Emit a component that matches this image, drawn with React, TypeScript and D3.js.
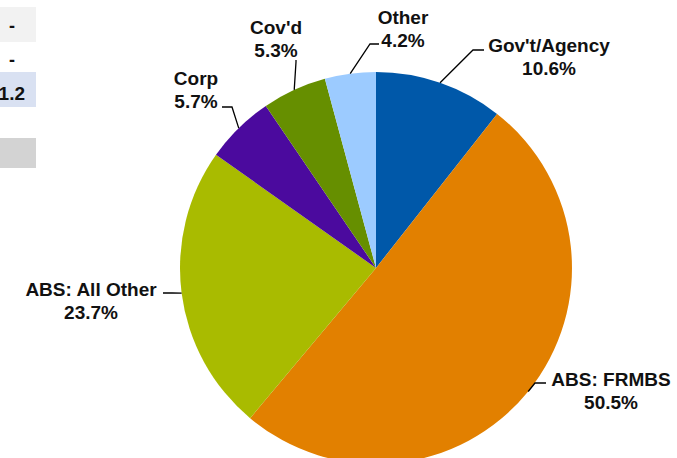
import { useEffect, useRef } from "react";
import * as d3 from "d3";

// slice data, clockwise from 12 o'clock
const categories = ["Gov't/Agency", "ABS: FRMBS", "ABS: All Other", "Corp", "Cov'd", "Other"];
const shares = [10.6, 50.5, 23.7, 5.7, 5.3, 4.2];
const colors = ["#0058A9", "#E28000", "#A9BB00", "#4B0A9E", "#668F00", "#9CCBFF"];

// label placement (first-line baseline, centre x) and leader elbow / end
const labelLayout = [
  { x: 549, y: 52, elbow: [473, 50], end: [484, 50] },
  { x: 611, y: 386, elbow: [535, 383], end: [546, 383] },
  { x: 91, y: 296, elbow: [172, 293], end: [163, 293] },
  { x: 196, y: 85, elbow: [232, 107], end: [222, 107] },
  { x: 276, y: 34, elbow: [296, 62], end: [296, 60] },
  { x: 403, y: 24, elbow: [370, 44], end: [379, 44] },
];

const W = 677;
const H = 458;

const App = () => {
  const svgRef = useRef(null);

  useEffect(() => {
    const svg = d3.select(svgRef.current);
    svg.selectAll("*").remove();

    const font = "'Liberation Sans', Arial, sans-serif";

    // leftover spreadsheet cells on the left edge
    const cells = svg.append("g");
    cells.append("rect").attr("x", 0).attr("y", 7).attr("width", 36).attr("height", 35).attr("fill", "#F2F2F2");
    cells.append("rect").attr("x", 0).attr("y", 72).attr("width", 36).attr("height", 35).attr("fill", "#D9E1F2");
    cells.append("rect").attr("x", 0).attr("y", 138).attr("width", 36).attr("height", 30).attr("fill", "#D3D3D3");
    cells.append("text").attr("x", 9).attr("y", 32).text("-")
      .attr("font-family", font).attr("font-size", 18).attr("font-weight", "bold").attr("fill", "#111");
    cells.append("text").attr("x", 9).attr("y", 66).text("-")
      .attr("font-family", font).attr("font-size", 18).attr("font-weight", "bold").attr("fill", "#111");
    cells.append("text").attr("x", 25).attr("y", 100).attr("text-anchor", "end").text("1.2")
      .attr("font-family", font).attr("font-size", 19).attr("font-weight", "bold").attr("fill", "#111");

    const cx = 376;
    const cy = 268;
    const r = 196;

    const pie = d3.pie<number>().sort(null).value((d) => d);
    const arcs = pie(shares);
    const arc = d3.arc<d3.PieArcDatum<number>>().innerRadius(0).outerRadius(r);

    const g = svg.append("g").attr("transform", `translate(${cx},${cy})`);

    g.selectAll("path")
      .data(arcs)
      .enter()
      .append("path")
      .attr("d", arc)
      .attr("fill", (_, i) => colors[i]);

    // leader lines: start at the rim, at each slice's mid angle
    arcs.forEach((a, i) => {
      const mid = (a.startAngle + a.endAngle) / 2;
      const sx = cx + r * Math.sin(mid);
      const sy = cy - r * Math.cos(mid);
      const L = labelLayout[i];
      svg.append("polyline")
        .attr("points", `${sx},${sy} ${L.elbow[0]},${L.elbow[1]} ${L.end[0]},${L.end[1]}`)
        .attr("fill", "none")
        .attr("stroke", "#000")
        .attr("stroke-width", 1.3);

      const t = svg.append("text")
        .attr("x", L.x)
        .attr("y", L.y)
        .attr("text-anchor", "middle")
        .attr("font-family", font)
        .attr("font-size", 19)
        .attr("font-weight", "bold")
        .attr("fill", "#111");
      t.append("tspan").attr("x", L.x).text(categories[i]);
      t.append("tspan").attr("x", L.x).attr("dy", 23).text(`${shares[i].toFixed(1)}%`);
    });
  }, []);

  return (
    <svg
      ref={svgRef}
      width={W}
      height={H}
      style={{ position: "absolute", left: 0, top: 0, background: "#fff" }}
    />
  );
};

export default App;
